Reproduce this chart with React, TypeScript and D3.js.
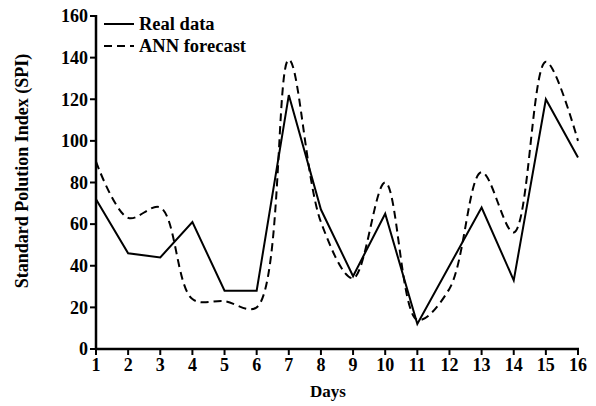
import React from "react";
import * as d3 from "d3";

const days = [1, 2, 3, 4, 5, 6, 7, 8, 9, 10, 11, 12, 13, 14, 15, 16];
const realData = [72, 46, 44, 61, 28, 28, 122, 67, 35, 65, 12, 40, 68, 33, 120, 92];
const annForecast = [90, 63, 68, 24, 23, 20, 139, 61, 34, 80, 14, 29, 85, 56, 138, 100];
const yTicks = [0, 20, 40, 60, 80, 100, 120, 140, 160];

const W = 596, H = 406;
const left = 96, right = 578, top = 16, bottom = 349;
const font = "Liberation Serif";

export default function App() {
  const x = d3.scaleLinear().domain([1, 16]).range([left, right]);
  const y = d3.scaleLinear().domain([0, 160]).range([bottom, top]);
  const solid = d3.line<number>().x((_, i) => x(days[i])).y((d) => y(d));
  const dashed = d3
    .line<number>()
    .x((_, i) => x(days[i]))
    .y((d) => y(d))
    .curve(d3.curveCatmullRom.alpha(0.5));

  const ts = { fontFamily: font, fontWeight: 700 } as React.CSSProperties;

  return (
    <svg width={W} height={H} style={{ position: "absolute", left: 0, top: 0, background: "#fff" }}>
      <rect width={W} height={H} fill="#fff" />
      <path d={solid(realData) || ""} fill="none" stroke="#000" strokeWidth={2} strokeLinejoin="miter" />
      <path d={dashed(annForecast) || ""} fill="none" stroke="#000" strokeWidth={2} strokeDasharray="8,5" />
      <line x1={left} x2={left} y1={top - 1} y2={bottom + 1} stroke="#000" strokeWidth={2.5} />
      <line x1={left - 1} x2={right + 1} y1={bottom} y2={bottom} stroke="#000" strokeWidth={2.5} />
      {yTicks.map((t) => (
        <g key={"y" + t}>
          <line x1={left - 6} x2={left} y1={y(t)} y2={y(t)} stroke="#000" strokeWidth={2} />
          <text x={left - 8} y={y(t)} dy="0.35em" textAnchor="end" style={{ ...ts, fontSize: 18 }}>
            {t}
          </text>
        </g>
      ))}
      {days.map((d) => (
        <g key={"x" + d}>
          <line x1={x(d)} x2={x(d)} y1={bottom} y2={bottom + 6} stroke="#000" strokeWidth={2} />
          <text x={x(d)} y={bottom + 22} textAnchor="middle" style={{ ...ts, fontSize: 18 }}>
            {d}
          </text>
        </g>
      ))}
      <text x={328} y={397} textAnchor="middle" style={{ ...ts, fontSize: 17 }}>
        Days
      </text>
      <text
        transform={`translate(28, 171) rotate(-90)`}
        textAnchor="middle"
        style={{ ...ts, fontSize: 18 }}
      >
        Standard Polution Index (SPI)
      </text>
      <line x1={104} x2={134} y1={24} y2={24} stroke="#000" strokeWidth={2} />
      <text x={139} y={30} style={{ ...ts, fontSize: 18.5 }}>Real data</text>
      <line x1={104} x2={134} y1={46} y2={46} stroke="#000" strokeWidth={2} strokeDasharray="8,5" />
      <text x={139} y={52} style={{ ...ts, fontSize: 18.5 }}>ANN forecast</text>
    </svg>
  );
}
